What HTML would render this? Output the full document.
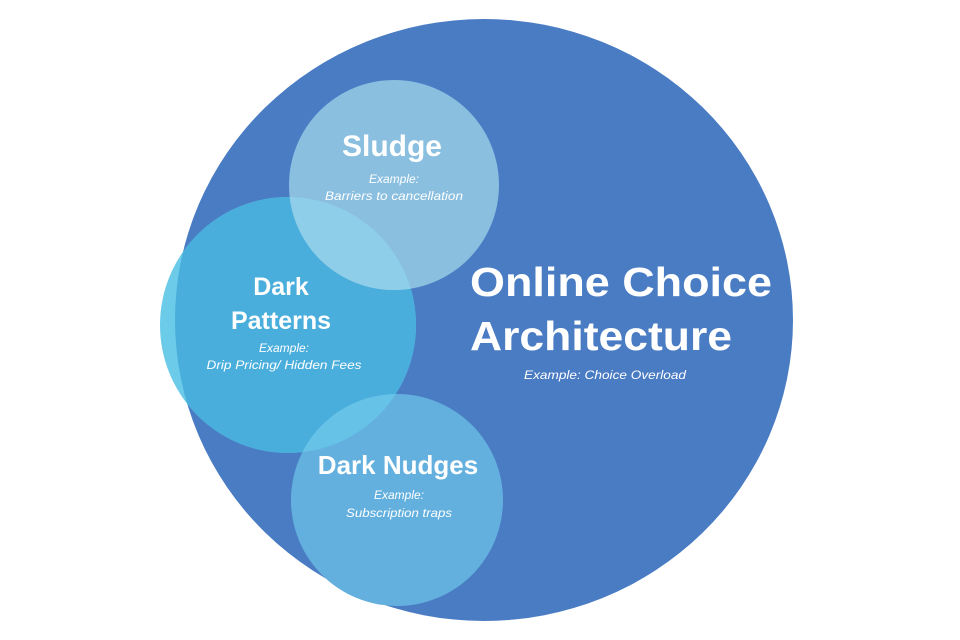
<!DOCTYPE html>
<html><head><style>html,body{margin:0;padding:0;background:#fff;}svg{display:block}</style></head>
<body>
<svg width="960" height="640" viewBox="0 0 960 640" xmlns="http://www.w3.org/2000/svg" font-family="Liberation Sans, Arial, sans-serif">
<defs>
<clipPath id="big"><ellipse cx="484" cy="320" rx="309" ry="301"/></clipPath>
<clipPath id="pat"><circle cx="288" cy="325" r="128"/></clipPath>
</defs>
<ellipse cx="484" cy="320" rx="309" ry="301" fill="#4a7cc4"/>
<circle cx="288" cy="325" r="128" fill="#6ccbe9"/>
<circle cx="288" cy="325" r="128" fill="#4aaedc" clip-path="url(#big)"/>
<circle cx="394" cy="185" r="105" fill="#8abfe0"/>
<circle cx="394" cy="185" r="105" fill="#8ecee8" clip-path="url(#pat)"/>
<circle cx="397" cy="500" r="106" fill="#63b0de"/>
<circle cx="397" cy="500" r="106" fill="#66c2e6" clip-path="url(#pat)"/>
<g fill="#fff" text-anchor="middle">
<text x="392" y="156" font-size="30" font-weight="bold">Sludge</text>
<text x="394" y="183" font-size="12" font-style="italic">Example:</text>
<text x="394" y="200" font-size="12" font-style="italic" textLength="138" lengthAdjust="spacingAndGlyphs">Barriers to cancellation</text>
<text x="281" y="295" font-size="25" font-weight="bold">Dark</text>
<text x="281" y="329" font-size="25" font-weight="bold">Patterns</text>
<text x="284" y="352" font-size="12" font-style="italic">Example:</text>
<text x="284" y="369" font-size="12" font-style="italic" textLength="155" lengthAdjust="spacingAndGlyphs">Drip Pricing/ Hidden Fees</text>
<text x="398" y="474" font-size="26" font-weight="bold">Dark Nudges</text>
<text x="399" y="499" font-size="12" font-style="italic">Example:</text>
<text x="399" y="517" font-size="12" font-style="italic" textLength="106" lengthAdjust="spacingAndGlyphs">Subscription traps</text>
<text x="605" y="379" font-size="12" font-style="italic" textLength="162" lengthAdjust="spacingAndGlyphs">Example: Choice Overload</text>
</g>
<g fill="#fff" font-weight="bold" font-size="41">
<text x="470" y="296" textLength="302" lengthAdjust="spacingAndGlyphs">Online Choice</text>
<text x="470" y="350" textLength="262" lengthAdjust="spacingAndGlyphs">Architecture</text>
</g>
</svg>
</body></html>
